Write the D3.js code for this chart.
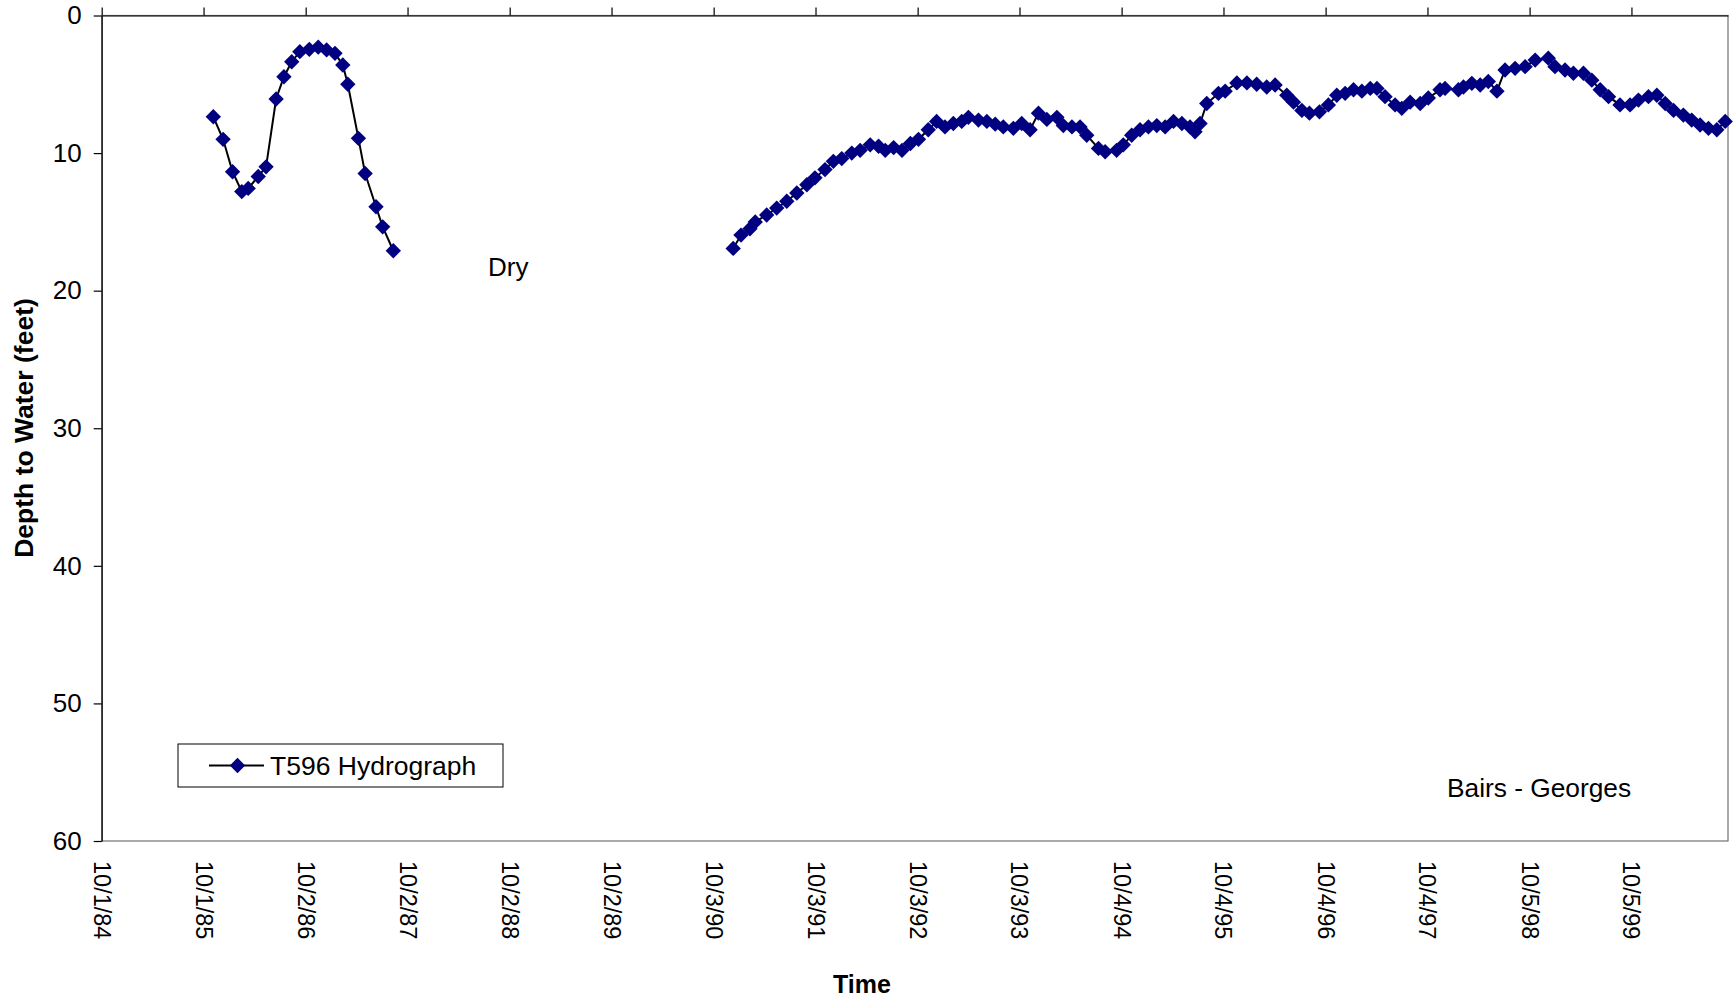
<!DOCTYPE html>
<html>
<head>
<meta charset="utf-8">
<title>T596 Hydrograph</title>
<script src="https://cdn.jsdelivr.net/npm/d3@7"></script>
<style>
  body { margin: 0; background: #fff; }
  svg { display: block; font-family: "Liberation Sans", Arial, Helvetica, sans-serif; }
</style>
</head>
<body>
<div id="chart"></div>
<script>
'use strict';

// tick labels exactly as printed along the time axis
const tickLabels = ["10/1/84", "10/1/85", "10/2/86", "10/2/87", "10/2/88", "10/2/89", "10/3/90", "10/3/91",
    "10/3/92", "10/3/93", "10/4/94", "10/4/95", "10/4/96", "10/4/97", "10/5/98", "10/5/99"];
const axisEnd = "2000-09-15";
const yTicks = [0, 10, 20, 30, 40, 50, 60];

// first run of readings (before the well went dry)
const seg1Dates = ["1985-11-05", "1985-12-10", "1986-01-13", "1986-02-15", "1986-03-10", "1986-04-15",
    "1986-05-13", "1986-06-18", "1986-07-16", "1986-08-13", "1986-09-11", "1986-10-15", "1986-11-16",
    "1986-12-16", "1987-01-15", "1987-02-12", "1987-03-02", "1987-04-09", "1987-05-03", "1987-06-11",
    "1987-07-05", "1987-08-12"];
const seg1Depth = [7.36, 9.0, 11.36, 12.8, 12.57, 11.7, 11.0, 6.07, 4.45, 3.36, 2.63, 2.46, 2.3,
    2.5, 2.75, 3.6, 5.0, 8.93, 11.48, 13.9, 15.36, 17.1];

// second run of readings
const seg2Dates = ["1990-12-12", "1991-01-09", "1991-02-10", "1991-03-01", "1991-04-11", "1991-05-17",
    "1991-06-22", "1991-07-28", "1991-09-02", "1991-10-01", "1991-11-06", "1991-12-06", "1992-01-05",
    "1992-02-10", "1992-03-11", "1992-04-16", "1992-05-16", "1992-06-09", "1992-07-09", "1992-08-08",
    "1992-09-07", "1992-10-06", "1992-11-10", "1992-12-10", "1993-01-09", "1993-02-08", "1993-03-10",
    "1993-04-03", "1993-05-09", "1993-06-08", "1993-07-08", "1993-08-06", "1993-09-11", "1993-10-11",
    "1993-11-10", "1993-12-10", "1994-01-09", "1994-02-14", "1994-03-09", "1994-04-09", "1994-05-08",
    "1994-06-01", "1994-07-13", "1994-08-06", "1994-09-16", "1994-10-10", "1994-11-09", "1994-12-09",
    "1995-01-08", "1995-02-07", "1995-03-09", "1995-04-08", "1995-05-08", "1995-06-06", "1995-06-24",
    "1995-07-12", "1995-08-05", "1995-09-16", "1995-10-10", "1995-11-21", "1995-12-27", "1996-01-31",
    "1996-03-07", "1996-04-06", "1996-05-18", "1996-06-11", "1996-07-11", "1996-08-07", "1996-09-12",
    "1996-10-14", "1996-11-13", "1996-12-13", "1997-01-12", "1997-02-11", "1997-03-13", "1997-04-06",
    "1997-05-05", "1997-06-10", "1997-07-04", "1997-08-03", "1997-09-08", "1997-10-07", "1997-11-18",
    "1997-12-06", "1998-01-23", "1998-02-10", "1998-03-12", "1998-04-11", "1998-05-10", "1998-06-10",
    "1998-07-09", "1998-08-14", "1998-09-19", "1998-10-25", "1998-12-11", "1999-01-04", "1999-02-09",
    "1999-03-11", "1999-04-16", "1999-05-16", "1999-06-15", "1999-07-15", "1999-08-25", "1999-09-30",
    "1999-10-30", "1999-12-05", "2000-01-04", "2000-02-03", "2000-03-04", "2000-04-08", "2000-05-08",
    "2000-06-07", "2000-07-07", "2000-08-06", "2000-09-05"];
const seg2Depth = [16.93, 15.96, 15.5, 15.0, 14.5, 14.0, 13.5, 12.9, 12.3, 11.8, 11.2, 10.6, 10.4,
    10.0, 9.8, 9.4, 9.5, 9.8, 9.6, 9.8, 9.3, 9.0, 8.3, 7.7, 8.1, 7.85, 7.7,
    7.4, 7.6, 7.7, 7.9, 8.1, 8.2, 7.85, 8.3, 7.1, 7.55, 7.4, 8.0, 8.1, 8.1,
    8.7, 9.66, 9.9, 9.8, 9.4, 8.7, 8.3, 8.1, 8.0, 8.1, 7.7, 7.85, 8.1, 8.45,
    7.85, 6.4, 5.66, 5.5, 4.9, 4.9, 5.0, 5.2, 5.05, 5.8, 6.3, 6.9, 7.1, 7.0,
    6.5, 5.8, 5.66, 5.4, 5.5, 5.3, 5.3, 5.9, 6.5, 6.75, 6.3, 6.4, 6.0, 5.4,
    5.3, 5.4, 5.2, 4.93, 5.05, 4.8, 5.5, 3.96, 3.84, 3.72, 3.24, 3.1, 3.72, 3.96,
    4.2, 4.2, 4.7, 5.4, 5.9, 6.5, 6.5, 6.15, 5.9, 5.8, 6.4, 6.9, 7.24, 7.6,
    7.96, 8.2, 8.3, 7.7];

const seriesName = "T596 Hydrograph";
const yTitle = "Depth to Water (feet)";
const xTitle = "Time";

const width = 1734;
const height = 1002;
const plot = { left: 101.7, top: 15.5, right: 1728, bottom: 841 };
const navy = "#000080";

const parseTick = d3.timeParse("%m/%d/%y");
const parseIso = d3.timeParse("%Y-%m-%d");
const tickDates = tickLabels.map(parseTick);

const seg1 = seg1Dates.map((d, i) => ({ date: parseIso(d), depth: seg1Depth[i] }));
const seg2 = seg2Dates.map((d, i) => ({ date: parseIso(d), depth: seg2Depth[i] }));

const xScale = d3.scaleTime()
    .domain([tickDates[0], parseIso(axisEnd)])
    .range([plot.left, plot.right]);
const yScale = d3.scaleLinear()
    .domain([0, 60])
    .range([plot.top, plot.bottom]);

const svg = d3.select("#chart")
    .append("svg")
    .attr("width", width)
    .attr("height", height)
    .attr("viewBox", [0, 0, width, height]);

// plot area frame
svg.append("rect")
    .attr("x", plot.left)
    .attr("y", plot.top)
    .attr("width", plot.right - plot.left)
    .attr("height", plot.bottom - plot.top)
    .attr("fill", "none")
    .attr("stroke", "#707070")
    .attr("stroke-width", 1.2);

// y axis (depth increases downward)
svg.append("g")
    .attr("transform", `translate(${plot.left},0)`)
    .call(d3.axisLeft(yScale).tickValues(yTicks).tickSize(8).tickSizeOuter(0).tickPadding(12))
    .call(g => g.selectAll("line, path").attr("stroke", "#000").attr("stroke-width", 1.2))
    .call(g => g.selectAll("text")
        .attr("fill", "#000")
        .style("font-size", "26px")
        .style("font-family", "'Liberation Sans', Arial, sans-serif"));

// time axis sits on the top edge, ticks point up
svg.append("g")
    .attr("transform", `translate(0,${plot.top})`)
    .call(d3.axisTop(xScale).tickValues(tickDates).tickSize(8).tickSizeOuter(0).tickFormat(""))
    .call(g => g.selectAll("line, path").attr("stroke", "#000").attr("stroke-width", 1.2));

// ...but its labels are printed below the plot, rotated
svg.append("g")
    .selectAll("text")
    .data(tickDates)
    .join("text")
        .attr("transform", d => `translate(${xScale(d)},861) rotate(90)`)
        .attr("text-anchor", "start")
        .attr("dominant-baseline", "central")
        .style("font-size", "23.5px")
        .text((d, i) => tickLabels[i]);

// the series: line under diamond markers
const line = d3.line()
    .x(d => xScale(d.date))
    .y(d => yScale(d.depth));

const diamond = d3.symbol().type(d3.symbolSquare).size(118);

[seg1, seg2].forEach(seg => {
    svg.append("path")
        .datum(seg)
        .attr("d", line)
        .attr("fill", "none")
        .attr("stroke", "#000")
        .attr("stroke-width", 2);
});

svg.append("g")
    .selectAll("path")
    .data(seg1.concat(seg2))
    .join("path")
        .attr("d", diamond)
        .attr("transform", d => `translate(${xScale(d.date)},${yScale(d.depth)}) rotate(45)`)
        .attr("fill", navy);

// axis titles
svg.append("text")
    .attr("transform", "translate(24,428) rotate(-90)")
    .attr("text-anchor", "middle")
    .attr("dominant-baseline", "central")
    .style("font-size", "26.5px")
    .style("font-weight", "bold")
    .text(yTitle);

svg.append("text")
    .attr("x", 862)
    .attr("y", 993)
    .attr("text-anchor", "middle")
    .style("font-size", "25px")
    .style("font-weight", "bold")
    .text(xTitle);

// text boxes on the plot
svg.append("text")
    .attr("x", 488)
    .attr("y", 276)
    .style("font-size", "26px")
    .text("Dry");

svg.append("text")
    .attr("x", 1447)
    .attr("y", 797)
    .style("font-size", "26.3px")
    .text("Bairs - Georges");

// legend
const legend = svg.append("g")
    .attr("transform", "translate(178,744)");

legend.append("rect")
    .attr("width", 325)
    .attr("height", 43)
    .attr("fill", "#fff")
    .attr("stroke", "#000")
    .attr("stroke-width", 1);

legend.append("line")
    .attr("x1", 31)
    .attr("x2", 86)
    .attr("y1", 21.5)
    .attr("y2", 21.5)
    .attr("stroke", "#000")
    .attr("stroke-width", 2);

legend.append("path")
    .attr("d", diamond)
    .attr("transform", "translate(59.5,21.5) rotate(45)")
    .attr("fill", navy);

legend.append("text")
    .attr("x", 92)
    .attr("y", 21.5)
    .attr("dominant-baseline", "central")
    .style("font-size", "26.5px")
    .text(seriesName);
</script>
</body>
</html>
